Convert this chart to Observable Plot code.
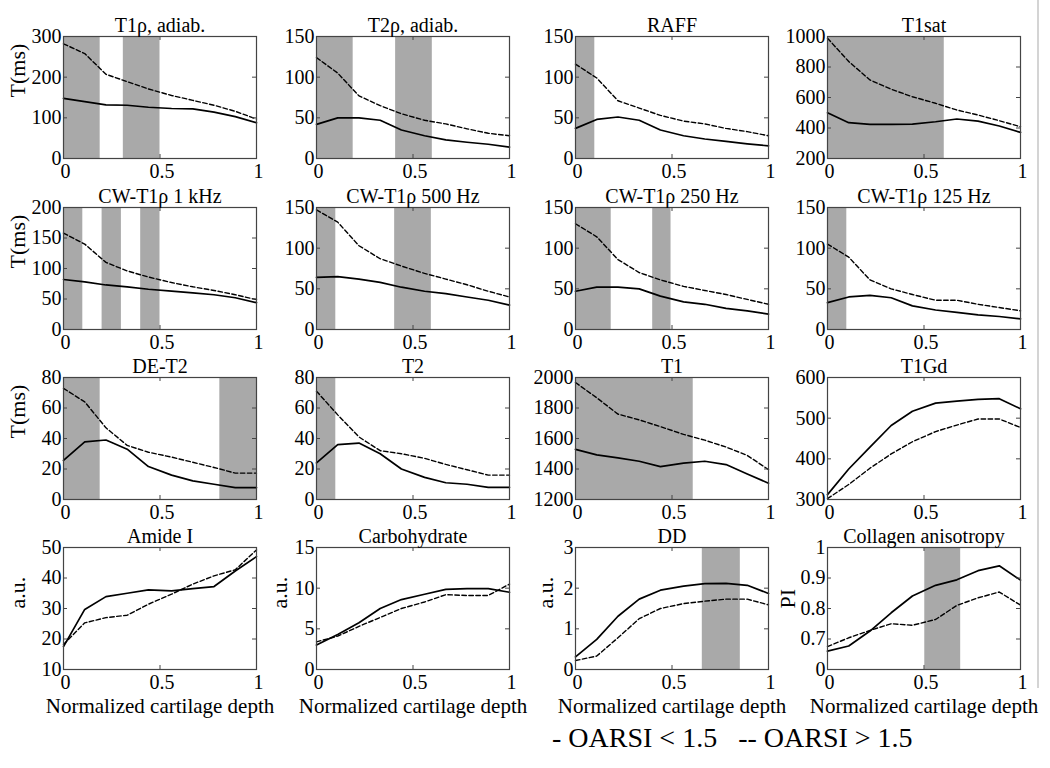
<!DOCTYPE html>
<html><head><meta charset="utf-8">
<script src="https://cdn.jsdelivr.net/npm/d3@7"></script>
<script src="https://cdn.jsdelivr.net/npm/@observablehq/plot@0.6"></script>
<style>
body{margin:0;background:#fff;}
#wrap{position:relative;width:1050px;height:768px;background:#fff;overflow:hidden;font-family:"Liberation Serif","Times New Roman",serif;color:#000;}
.panel{position:absolute;}
#legend{position:absolute;left:552px;top:724px;font-size:28px;line-height:28px;white-space:pre;}
#edge{position:absolute;left:1037px;top:0;width:2px;height:688px;background:#d4d4d4;}
</style></head><body>
<div id="wrap"><div id="edge"></div><div id="legend">- OARSI &lt; 1.5   -- OARSI &gt; 1.5</div></div>
<script>
// Normalized cartilage depth (x positions of the profile points)
const depth = [0, 0.11, 0.22, 0.33, 0.44, 0.56, 0.67, 0.78, 0.89, 1];
const xTicks = [0, 0.5, 1];

const titles = ["T1ρ, adiab.", "T2ρ, adiab.", "RAFF", "T1sat",
  "CW-T1ρ 1 kHz", "CW-T1ρ 500 Hz", "CW-T1ρ 250 Hz", "CW-T1ρ 125 Hz",
  "DE-T2", "T2", "T1", "T1Gd",
  "Amide I", "Carbohydrate", "DD", "Collagen anisotropy"];
const yLabels = ["T(ms)", "", "", "", "T(ms)", "", "", "", "T(ms)", "", "", "", "a.u.", "a.u.", "a.u.", "PI"];

// OARSI < 1.5 (solid) and OARSI > 1.5 (dashed)
const t1rhoLow   = [148, 140, 132, 131, 126, 123, 122, 114, 103, 88];
const t1rhoHigh  = [282, 258, 207, 189, 171, 155, 143, 131, 116, 97];
const t2rhoLow   = [42, 50, 50, 47, 35, 28, 23, 20, 17.5, 14];
const t2rhoHigh  = [124, 105, 77, 65, 55, 47, 42.5, 36.5, 31, 28];
const raffLow    = [37, 48, 51, 47, 35, 28, 24, 21, 18, 15.5];
const raffHigh   = [116, 99, 71, 62, 53, 46, 42.5, 37, 33, 28];
const t1satLow   = [500, 435, 424, 424, 426, 441, 459, 445, 413, 371];
const t1satHigh  = [989, 836, 715, 654, 605, 562, 518, 485, 448, 408];
const cw1kLow    = [82, 78, 73, 70, 66, 63, 60, 57, 52, 44];
const cw1kHigh   = [158, 140, 110, 96, 86, 77, 70, 64, 57, 49];
const cw500Low   = [64, 65, 62, 58, 52, 47, 44, 40, 36, 30];
const cw500High  = [147, 132, 103, 87, 78, 69, 62, 55, 47, 40];
const cw250Low   = [47, 52, 52, 50, 41, 34, 31, 26, 23, 19];
const cw250High  = [130, 114, 86, 70, 61, 53, 48, 43, 37, 31];
const cw125Low   = [33, 40, 42, 39, 29, 24, 21, 18, 16, 13];
const cw125High  = [105, 89, 61, 50, 43, 36, 36, 31, 27, 23];
const det2Low    = [25.6, 37.8, 39, 33, 21.6, 16, 12.2, 10, 7.8, 7.8];
const det2High   = [72.9, 64, 47, 35.5, 31, 27.8, 24.4, 21, 17.3, 17.3];
const t2Low      = [24, 36, 37, 30, 20, 14.5, 11, 10, 8, 8];
const t2High     = [71, 55.5, 41, 32, 30, 27, 23, 19.5, 16, 16];
const t1Low      = [1529, 1493, 1473, 1451, 1416, 1438, 1451, 1429, 1367, 1307];
const t1High     = [1967, 1867, 1760, 1722, 1678, 1627, 1589, 1544, 1489, 1396];
const t1gdLow    = [312, 375, 429, 482, 517, 537, 542, 546, 548, 523];
const t1gdHigh   = [302, 337, 377, 412, 442, 467, 483, 498, 498, 477];
const amideLow   = [17.5, 29.7, 33.9, 35, 36.1, 35.8, 36.5, 37.2, 42.3, 47];
const amideHigh  = [18.2, 25.3, 27, 27.8, 31.4, 34.7, 38, 40.7, 42.7, 49.2];
const carbLow    = [3, 4.3, 5.75, 7.5, 8.6, 9.25, 9.86, 9.95, 9.95, 9.5];
const carbHigh   = [3.4, 4.1, 5.3, 6.4, 7.5, 8.3, 9.2, 9.1, 9.1, 10.5];
const ddLow      = [0.31, 0.74, 1.31, 1.73, 1.95, 2.05, 2.11, 2.12, 2.07, 1.87];
const ddHigh     = [0.22, 0.33, 0.78, 1.25, 1.5, 1.62, 1.68, 1.73, 1.73, 1.59];
const collLow    = [0.66, 0.677, 0.726, 0.786, 0.841, 0.876, 0.894, 0.924, 0.94, 0.893];
const collHigh   = [0.675, 0.704, 0.728, 0.75, 0.745, 0.764, 0.81, 0.835, 0.854, 0.811];

const lowSeries  = [t1rhoLow, t2rhoLow, raffLow, t1satLow, cw1kLow, cw500Low, cw250Low, cw125Low, det2Low, t2Low, t1Low, t1gdLow, amideLow, carbLow, ddLow, collLow];
const highSeries = [t1rhoHigh, t2rhoHigh, raffHigh, t1satHigh, cw1kHigh, cw500High, cw250High, cw125High, det2High, t2High, t1High, t1gdHigh, amideHigh, carbHigh, ddHigh, collHigh];

// y axis domains and ticks
const yDomains = [[0,300],[0,150],[0,150],[200,1000],[0,200],[0,150],[0,150],[0,150],[0,80],[0,80],[1200,2000],[300,600],[10,50],[0,15],[0,3],[0.6,1]];
const yTickValues = [
  [0,100,200,300],[0,50,100,150],[0,50,100,150],[200,400,600,800,1000],
  [0,50,100,150,200],[0,50,100,150],[0,50,100,150],[0,50,100,150],
  [0,20,40,60,80],[0,20,40,60,80],[1200,1400,1600,1800,2000],[300,400,500,600],
  [10,20,30,40,50],[0,5,10,15],[0,1,2,3],[0.6,0.7,0.8,0.9,1]];
const yTickLabels = [
  ["0","100","200","300"],["0","50","100","150"],["0","50","100","150"],["200","400","600","800","1000"],
  ["0","50","100","150","200"],["0","50","100","150"],["0","50","100","150"],["0","50","100","150"],
  ["0","20","40","60","80"],["0","20","40","60","80"],["1200","1400","1600","1800","2000"],["300","400","500","600"],
  ["10","20","30","40","50"],["0","5","10","15"],["0","1","2","3"],["0","0.7","0.8","0.9","1"]];

// significant-difference depth ranges (gray bands)
const shadedRanges = [
  [[0,0.19],[0.31,0.5]], [[0,0.19],[0.41,0.6]], [[0,0.1]], [[0,0.605]],
  [[0,0.1],[0.2,0.3],[0.4,0.5]], [[0,0.1],[0.405,0.595]], [[0,0.185],[0.4,0.495]], [[0,0.1]],
  [[0,0.19],[0.81,1]], [[0,0.1]], [[0,0.61]], [],
  [], [], [[0.657,0.854]], [[0.504,0.69]]];

// layout
const FX = [63, 316, 575, 827], FY = [36, 207, 377, 547], FW = 193, FH = 122;
const ML = 62, MR = 12, MT = 36;
const yLabelOffset = [46, 37, 30, 40];
const frameColor = "#444";

const wrap = document.getElementById("wrap");
titles.forEach((title, i) => {
  const r = Math.floor(i / 4), c = i % 4;
  const MB = r === 3 ? 52 : 34;
  const rows = depth.map((x, k) => ({x, low: lowSeries[i][k], high: highSeries[i][k]}));
  const ticks = yTickValues[i], labs = yTickLabels[i];
  const fmt = d => { const k = ticks.indexOf(d); return k >= 0 ? labs[k] : String(d); };
  const marks = [
    Plot.rect(shadedRanges[i], {x1: d => d[0], x2: d => d[1], fill: "#a9a9a9"}),
    Plot.line(rows, {x: "x", y: "high", stroke: "#000", strokeWidth: 1.4, strokeDasharray: "4.5,2.5"}),
    Plot.line(rows, {x: "x", y: "low", stroke: "#000", strokeWidth: 1.7}),
    Plot.frame({stroke: frameColor, strokeWidth: 1.2}),
    Plot.tickX(xTicks, {x: d => d, insetTop: FH - 4, stroke: frameColor}),
    Plot.tickX(xTicks, {x: d => d, insetBottom: FH - 4, stroke: frameColor}),
    Plot.tickY(ticks, {y: d => d, insetRight: FW - 4, stroke: frameColor}),
    Plot.tickY(ticks, {y: d => d, insetLeft: FW - 4, stroke: frameColor}),
    Plot.axisX({ticks: xTicks, tickSize: 0, tickPadding: 5, tickFormat: d => String(d), label: null, fontSize: 20, dx: 2}),
    Plot.axisY({ticks: ticks, tickSize: 0, tickPadding: 2, tickFormat: fmt, label: null, fontSize: 20}),
    Plot.text([title], {text: d => d, frameAnchor: "top", lineAnchor: "bottom", dy: -5, fontSize: 20})
  ];
  if (yLabels[i]) marks.push(Plot.text([yLabels[i]], {text: d => d, frameAnchor: "left", dx: -yLabelOffset[c], rotate: -90, fontSize: 22}));
  if (r === 3) marks.push(Plot.text(["Normalized cartilage depth"], {text: d => d, frameAnchor: "bottom", lineAnchor: "bottom", dy: 43, fontSize: 21}));
  const svg = Plot.plot({
    width: FW + ML + MR, height: FH + MT + MB,
    marginLeft: ML, marginRight: MR, marginTop: MT, marginBottom: MB,
    x: {domain: [0, 1]}, y: {domain: yDomains[i]},
    style: "background:transparent;overflow:visible;max-width:none;font-family:'Liberation Serif','Times New Roman',serif;font-size:20px;color:#000;",
    marks
  });
  const div = document.createElement("div");
  div.className = "panel";
  div.style.left = (FX[c] - ML) + "px";
  div.style.top = (FY[r] - MT) + "px";
  div.appendChild(svg);
  wrap.appendChild(div);
});
</script>
</body></html>
